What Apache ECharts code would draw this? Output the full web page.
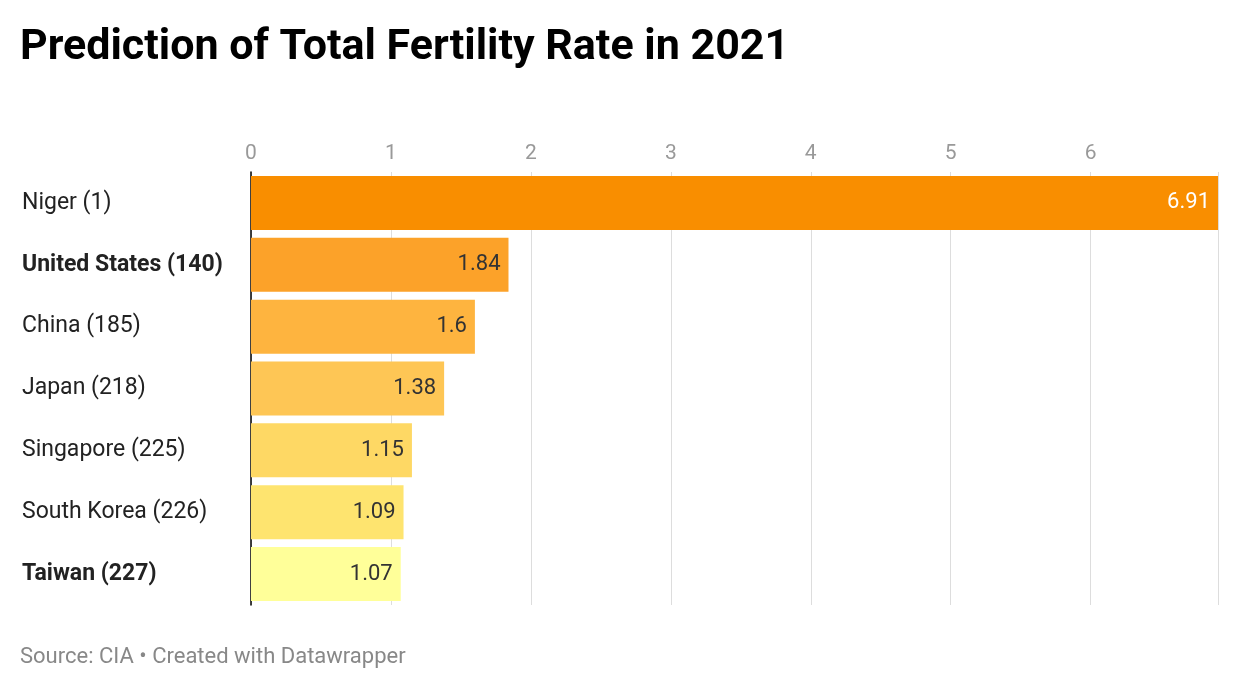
<!DOCTYPE html>
<html><head><meta charset="utf-8">
<script src="https://cdn.jsdelivr.net/npm/echarts@6/dist/echarts.min.js"></script>
<style>body{margin:0;background:#fff}#c{width:1240px;height:688px}</style>
</head><body><div id="c"></div>
<script>
var countries = ['Niger (1)', 'United States (140)', 'China (185)', 'Japan (218)', 'Singapore (225)', 'South Korea (226)', 'Taiwan (227)'];
var rates = [6.91, 1.84, 1.6, 1.38, 1.15, 1.09, 1.07];
var barColors = ['#f98e00', '#fca229', '#feb43f', '#fec655', '#fed864', '#fee46f', '#ffff99'];
var boldRows = ['United States (140)', 'Taiwan (227)'];

var chart = echarts.init(document.getElementById('c'));
chart.setOption({
    animation: false,
    textStyle: {fontFamily: 'Roboto'},
    title: [
        {text: 'Prediction of Total Fertility Rate in 2021', left: 15, top: 22,
         textStyle: {fontSize: 43, fontWeight: 'bold', color: '#000', fontFamily: 'Roboto'}},
        {text: 'Source: CIA • Created with Datawrapper', left: 15, top: 641,
         textStyle: {fontSize: 22, fontWeight: 'normal', color: '#888', fontFamily: 'Roboto'}}
    ],
    grid: {left: 251, right: 22, top: 172, bottom: 83},
    xAxis: {
        type: 'value', position: 'top', min: 0, max: 6.91, interval: 1,
        axisLine: {show: false}, axisTick: {show: false},
        axisLabel: {color: '#999', fontSize: 21, margin: 8, showMaxLabel: false},
        splitLine: {lineStyle: {color: '#ddd'}}
    },
    yAxis: {
        type: 'category', inverse: true, data: countries,
        axisLine: {lineStyle: {color: '#000', width: 1.5}}, axisTick: {show: false},
        axisLabel: {
            align: 'left', margin: 229, fontSize: 23, color: '#222',
            formatter: function (v) { return boldRows.indexOf(v) >= 0 ? '{b|' + v + '}' : v; },
            rich: {b: {fontWeight: 'bold', fontSize: 23, color: '#222'}}
        }
    },
    series: [{
        type: 'bar', barWidth: 54,
        data: rates.map(function (v, i) {
            return {value: v, itemStyle: {color: barColors[i]},
                label: {color: i === 0 ? '#fff' : '#333'}};
        }),
        label: {show: true, position: 'insideRight', fontSize: 22, distance: 8}
    }]
});
</script></body></html>
